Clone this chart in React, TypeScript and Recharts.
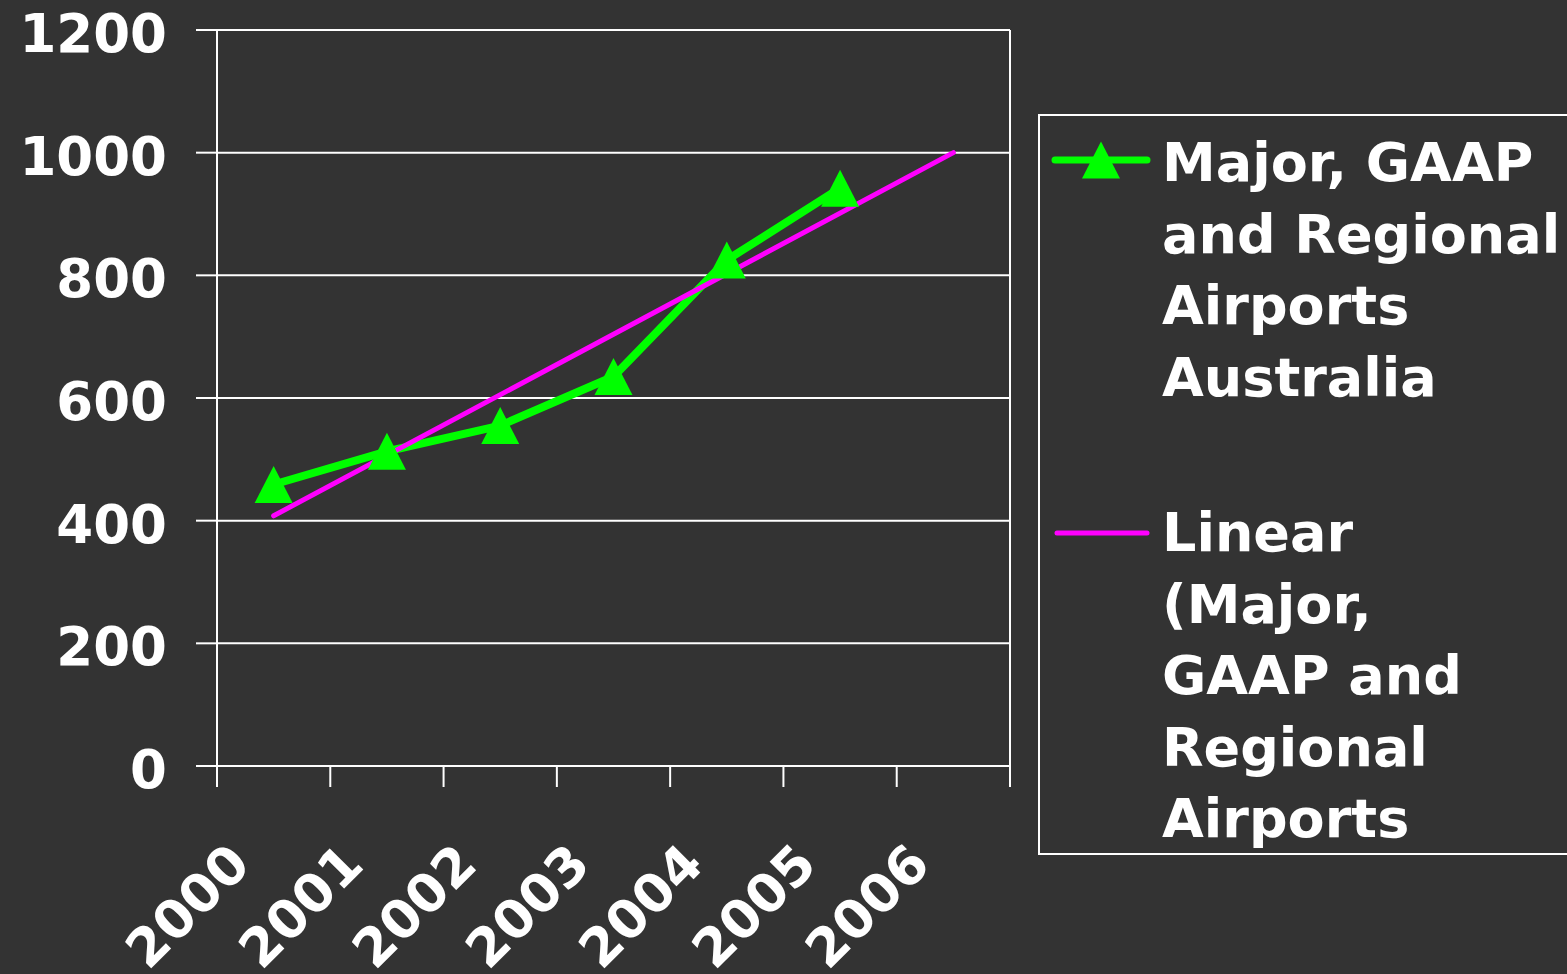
import React from "react";
import {
  LineChart,
  Line,
  XAxis,
  YAxis,
  CartesianGrid,
  ReferenceLine,
  Legend,
} from "recharts";

const years = ["2000", "2001", "2002", "2003", "2004", "2005", "2006"];
const traffic = [459, 513, 555, 635, 825, 942];
// trendline endpoints (first and last category)
const trend = [408, null, null, null, null, null, 1000];
const yTicks = [0, 200, 400, 600, 800, 1000, 1200];

const seriesName = "Major, GAAP and Regional Airports Australia";
const trendName = "Linear (Major, GAAP and Regional Airports";
const seriesLines = ["Major, GAAP", "and Regional", "Airports", "Australia"];
const trendLines = ["Linear", "(Major,", "GAAP and", "Regional", "Airports"];

const W = 1567;
const H = 974;
const PLOT_LEFT = 217;
const PLOT_RIGHT = 1010;
const BAND = (PLOT_RIGHT - PLOT_LEFT) / years.length;
const FONT = "'DejaVu Sans', Verdana, sans-serif";
const GREEN = "#00ff00";
const MAGENTA = "#ff00ff";
const BG = "#333333";

const data = years.map((year, i) => ({
  x: i + 0.5,
  year,
  traffic: i < traffic.length ? traffic[i] : null,
  trend: trend[i],
}));

function YTick({ x, y, payload }: any) {
  return (
    <text
      x={x}
      y={y + 22}
      textAnchor="end"
      fill="#fff"
      fontSize={53}
      fontWeight="bold"
      fontFamily={FONT}
    >
      {payload.value}
    </text>
  );
}

function XTick({ x, y, payload }: any) {
  const label = years[payload.value];
  if (!label) return null;
  return (
    <g transform={`translate(${x + BAND / 2 - 21},${y + 80})`}>
      <text
        transform="rotate(-45)"
        textAnchor="end"
        fill="#fff"
        fontSize={53}
        fontWeight="bold"
        fontFamily={FONT}
      >
        {label}
      </text>
    </g>
  );
}

function TriangleDot({ cx, cy }: any) {
  if (cx == null || cy == null) return null;
  return (
    <polygon
      points={`${cx},${cy - 18.5} ${cx + 19},${cy + 18.5} ${cx - 19},${cy + 18.5}`}
      fill={GREEN}
    />
  );
}

function LegendBox() {
  const textStyle: React.CSSProperties = {
    color: "#fff",
    fontFamily: FONT,
    fontWeight: "bold",
    fontSize: 54,
    lineHeight: "71.5px",
    whiteSpace: "nowrap",
  };
  return (
    <div
      style={{
        width: "100%",
        height: "100%",
        boxSizing: "border-box",
        border: "2px solid #fff",
        background: BG,
        paddingTop: 11,
        overflow: "hidden",
      }}
    >
      <div style={{ display: "flex" }}>
        <svg width={122} height={72} style={{ flex: "none" }}>
          <line x1={15} y1={33} x2={107} y2={33} stroke={GREEN} strokeWidth={7} strokeLinecap="round" />
          <polygon points="61,14.5 80,51.5 42,51.5" fill={GREEN} />
        </svg>
        <div style={textStyle}>
          {seriesLines.map((l) => (
            <div key={l}>{l}</div>
          ))}
        </div>
      </div>
      <div style={{ display: "flex", marginTop: 84 }}>
        <svg width={122} height={72} style={{ flex: "none" }}>
          <line x1={17} y1={36} x2={107} y2={36} stroke={MAGENTA} strokeWidth={5} strokeLinecap="round" />
        </svg>
        <div style={textStyle}>
          {trendLines.map((l) => (
            <div key={l}>{l}</div>
          ))}
        </div>
      </div>
    </div>
  );
}

export default function App() {
  return (
    <div
      style={{
        position: "absolute",
        left: 0,
        top: 0,
        width: W,
        height: H,
        overflow: "hidden",
        background: BG,
      }}
    >
      <LineChart
        width={W}
        height={H}
        data={data}
        margin={{ top: 30, right: W - PLOT_RIGHT, bottom: 0, left: 0 }}
      >
        <CartesianGrid vertical={false} stroke="#fff" strokeWidth={2} />
        <XAxis
          dataKey="x"
          type="number"
          domain={[0, years.length]}
          ticks={[0, 1, 2, 3, 4, 5, 6, 7]}
          interval={0}
          height={208}
          tickSize={21}
          tickMargin={0}
          axisLine={{ stroke: "#fff", strokeWidth: 2 }}
          tickLine={{ stroke: "#fff", strokeWidth: 2 }}
          tick={<XTick />}
        />
        <YAxis
          domain={[0, 1200]}
          ticks={yTicks}
          interval={0}
          width={PLOT_LEFT}
          tickSize={21}
          tickMargin={29}
          axisLine={{ stroke: "#fff", strokeWidth: 2 }}
          tickLine={{ stroke: "#fff", strokeWidth: 2 }}
          tick={<YTick />}
        />
        <ReferenceLine x={years.length} stroke="#fff" strokeWidth={2} />
        <Line
          type="linear"
          dataKey="traffic"
          name={seriesName}
          stroke={GREEN}
          strokeWidth={8}
          dot={<TriangleDot />}
          activeDot={false}
          isAnimationActive={false}
        />
        <Line
          type="linear"
          dataKey="trend"
          name={trendName}
          stroke={MAGENTA}
          strokeWidth={5}
          strokeLinecap="round"
          connectNulls
          dot={false}
          activeDot={false}
          isAnimationActive={false}
        />
        <Legend
          layout="vertical"
          align="center"
          verticalAlign="middle"
          wrapperStyle={{ left: 1038, top: 114, width: 560, height: 741 }}
          content={() => <LegendBox />}
        />
      </LineChart>
    </div>
  );
}
